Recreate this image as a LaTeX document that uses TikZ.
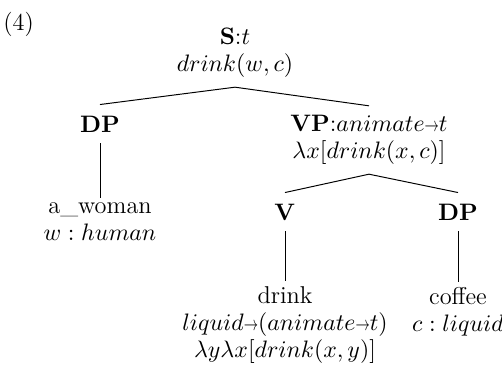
\documentclass[tikz,border=0pt]{standalone}
\usepackage{amsmath}
\usepackage{graphicx}
\newcommand{\tarr}{\mathrel{\scalebox{0.6}[0.85]{$\rightarrow$}}}
\begin{document}
\begin{tikzpicture}[x=0.46pt,y=-0.46pt,
  every node/.style={font=\fontsize{11.2}{12.4}\selectfont},
  tn/.style={align=center,inner sep=0pt,outer xsep=0pt,outer ysep=4.4pt},
  cat/.style={tn,outer ysep=5.2pt},
  leaf/.style={tn,outer ysep=2.4pt},
  edge/.style={line width=0.45pt}]
\useasboundingbox (0,0) rectangle (502,374);
\node[anchor=base west,inner sep=0pt] (num) at (3,30) {(4)};
% root
\node[tn] (S) at (235,53) {$\mathbf{S}$:$t$\\ $drink(w,c)$};
% first level
\node[cat] (DPa) at (100,124) {$\mathbf{DP}$};
\node[tn] (VP) at (369,140) {$\mathbf{VP}$:$animate{\tarr}t$\\ $\lambda x[drink(x,c)]$};
% leaves of DP
\node[leaf] (woman) at (100,222) {a\_woman\\ $w:human$};
% second level
\node[cat] (V) at (285,212) {$\mathbf{V}$};
\node[cat] (DPb) at (458,212) {$\mathbf{DP}$};
% leaves
\node[leaf] (drink) at (285,325) {drink\\ $liquid{\tarr}(animate{\tarr}t)$\\ $\lambda y\lambda x[drink(x,y)]$};
\node[leaf] (coffee) at (458,312) {coffee\\ $c:liquid$};
% branches
\draw[edge] (S.south) -- (DPa.north);
\draw[edge] (S.south) -- (VP.north);
\draw[edge] (DPa.south) -- (woman.north);
\draw[edge] (VP.south) -- (V.north);
\draw[edge] (VP.south) -- (DPb.north);
\draw[edge] (V.south) -- (drink.north);
\draw[edge] (DPb.south) -- (coffee.north);
\end{tikzpicture}
\end{document}
